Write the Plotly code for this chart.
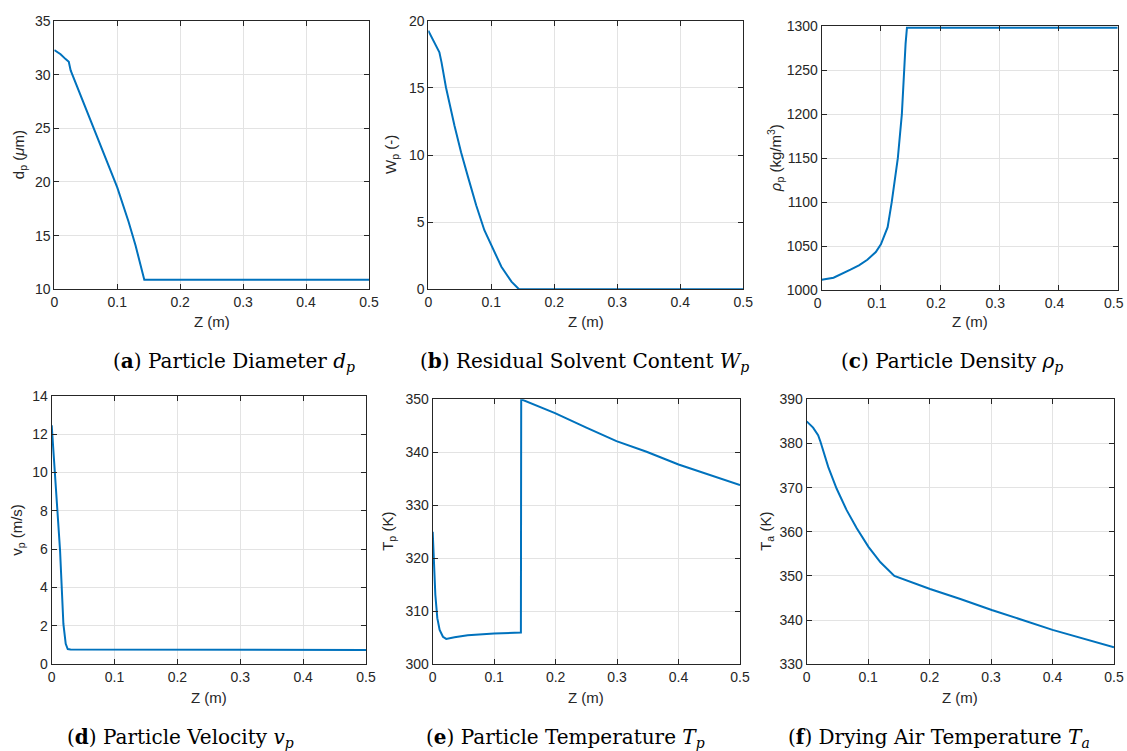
import plotly.graph_objects as go

# ---------------- data ----------------
z_dp = [0, 0.01, 0.018, 0.023, 0.026, 0.045, 0.06, 0.079, 0.1, 0.118, 0.129, 0.143, 0.5]
dp = [32.3, 31.9, 31.45, 31.2, 30.4, 27.6, 25.3, 22.5, 19.5, 16.3, 14.1, 10.9, 10.9]

z_wp = [0, 0.008, 0.0176, 0.021, 0.028, 0.0415, 0.052, 0.063, 0.076, 0.089, 0.1, 0.116, 0.132, 0.144, 0.5]
wp = [19.26, 18.5, 17.65, 16.9, 15.05, 12.2, 10.2, 8.37, 6.26, 4.4, 3.3, 1.68, 0.57, 0.0, 0.0]

z_rho = [0, 0.02, 0.0486, 0.0629, 0.0771, 0.0914, 0.1, 0.1114, 0.1183, 0.1286, 0.1354, 0.1389,
         0.1417, 0.144, 0.5]
rho = [1012, 1014.3, 1023.4, 1028.3, 1034.7, 1043.4, 1052.1, 1071.7, 1100, 1150, 1200, 1250,
       1280, 1298, 1298]

z_vp = [0, 0.0133, 0.0186, 0.0223, 0.0255, 0.03, 0.5]
vp = [12.46, 5.92, 2.09, 1.05, 0.78, 0.76, 0.73]

z_tp = [0, 0.002, 0.0043, 0.0075, 0.0113, 0.0167, 0.022, 0.0355, 0.057, 0.1, 0.1435, 0.144,
        0.199, 0.25, 0.299, 0.348, 0.4, 0.5]
tp = [325, 319.3, 313.1, 308.7, 306.5, 305.2, 304.8, 305.1, 305.5, 305.8, 306.0, 350,
      347.4, 344.65, 342.1, 340.1, 337.7, 333.8]

z_ta = [0, 0.0104, 0.0186, 0.0224, 0.035, 0.0486, 0.065, 0.0814, 0.1005, 0.12, 0.1426,
        0.2007, 0.25, 0.301, 0.4, 0.5]
ta = [385.0, 383.6, 381.9, 380.4, 374.7, 369.8, 364.9, 360.8, 356.6, 353.1, 350.0,
      347.06, 344.8, 342.3, 337.8, 333.85]

x_ticks = [0, 0.1, 0.2, 0.3, 0.4, 0.5]
x_ticklabels = ["0", "0.1", "0.2", "0.3", "0.4", "0.5"]
x_title = "Z (m)"

y_titles = ["d<sub>p</sub> (<i>μ</i>m)", "W<sub>p</sub> (-)", "<i>ρ</i><sub>p</sub> (kg/m<sup>3</sup>)",
            "v<sub>p</sub> (m/s)", "T<sub>p</sub> (K)", "T<sub>a</sub> (K)"]
y_ranges = [[10, 35], [0, 20], [1000, 1300], [0, 14], [300, 350], [330, 390]]
y_dticks = [5, 5, 50, 2, 10, 10]

captions = ["(<b>a</b>) Particle Diameter <i>d<sub>p</sub></i>",
            "(<b>b</b>) Residual Solvent Content <i>W<sub>p</sub></i>",
            "(<b>c</b>) Particle Density <i>ρ<sub>p</sub></i>",
            "(<b>d</b>) Particle Velocity <i>v<sub>p</sub></i>",
            "(<b>e</b>) Particle Temperature <i>T<sub>p</sub></i>",
            "(<b>f</b>) Drying Air Temperature <i>T<sub>a</sub></i>"]

series = [(z_dp, dp), (z_wp, wp), (z_rho, rho), (z_vp, vp), (z_tp, tp), (z_ta, ta)]

# ---------------- layout (pixel boxes in page coordinates) ----------------
OFF = 0                      # page margin removed by the post script below
W, H = 1127, 751
boxes = [(54.3, 369, 21, 289.3), (428.3, 743.3, 20.7, 289.3), (821.7, 1117.7, 26, 290.3),
         (51.7, 366, 395.7, 664), (432.7, 740, 399.3, 664.3), (806.7, 1114, 399.3, 664.3)]
caption_pos = [(234, 362), (584, 362), (952, 362), (180, 738), (565, 738), (939, 738)]
xtitle_y = [322, 322, 322, 697, 697, 697]
ytitle_x = [19, 392, 775, 18, 389, 767]
label_shift = [0, 0, -4, 0, 0, 0]


def px(x):
    return (x - OFF) / W


def py(y):
    return 1 - (y - OFF) / H


axis_color = "#262626"
grid_color = "#e3e3e3"
tick_font = dict(family="Liberation Sans, Arial, sans-serif", size=14, color=axis_color)
title_font = dict(family="Liberation Sans, Arial, sans-serif", size=15, color=axis_color)

fig = go.Figure()
layout = dict(width=W, height=H, margin=dict(l=0, r=0, t=0, b=0, autoexpand=False),
              paper_bgcolor="white", plot_bgcolor="white", showlegend=False,
              annotations=[])

for i, ((zx, vy), box) in enumerate(zip(series, boxes)):
    n = "" if i == 0 else str(i + 1)
    fig.add_trace(go.Scatter(x=zx, y=vy, mode="lines", xaxis="x" + n, yaxis="y" + n,
                             line=dict(color="#0072BD", width=2)))
    x0, x1, y0, y1 = box
    common = dict(showline=True, linecolor=axis_color, linewidth=1, mirror="ticks",
                  ticks="inside", ticklen=5, tickcolor=axis_color, showgrid=True,
                  gridcolor=grid_color, gridwidth=1, zeroline=False, tickfont=tick_font,
                  automargin=False)
    layout["xaxis" + n] = dict(common, domain=[px(x0), px(x1)], range=[0, 0.5],
                               tickvals=x_ticks, ticktext=x_ticklabels, anchor="y" + n,
                               ticklabelshift=label_shift[i])
    layout["yaxis" + n] = dict(common, domain=[py(y1), py(y0)], range=y_ranges[i],
                               dtick=y_dticks[i], anchor="x" + n)
    # axis titles
    layout["annotations"].append(dict(text=x_title, x=px((x0 + x1) / 2), y=py(xtitle_y[i]),
                                      xref="paper", yref="paper", showarrow=False,
                                      xanchor="center", yanchor="middle", font=title_font))
    layout["annotations"].append(dict(text=y_titles[i], x=px(ytitle_x[i]), y=py((y0 + y1) / 2),
                                      xref="paper", yref="paper", showarrow=False,
                                      textangle=-90, xanchor="center", yanchor="middle",
                                      font=title_font))
    # caption
    cx, cy = caption_pos[i]
    layout["annotations"].append(dict(text=captions[i], x=px(cx), y=py(cy),
                                      xref="paper", yref="paper", showarrow=False,
                                      xanchor="center", yanchor="middle",
                                      font=dict(family="DejaVu Serif, serif", size=20,
                                                color="black")))

fig.update_layout(**layout)
fig.write_html("out.html", config={"displayModeBar": False},
               post_script="document.body.style.margin='0';document.body.style.overflow='hidden';")
